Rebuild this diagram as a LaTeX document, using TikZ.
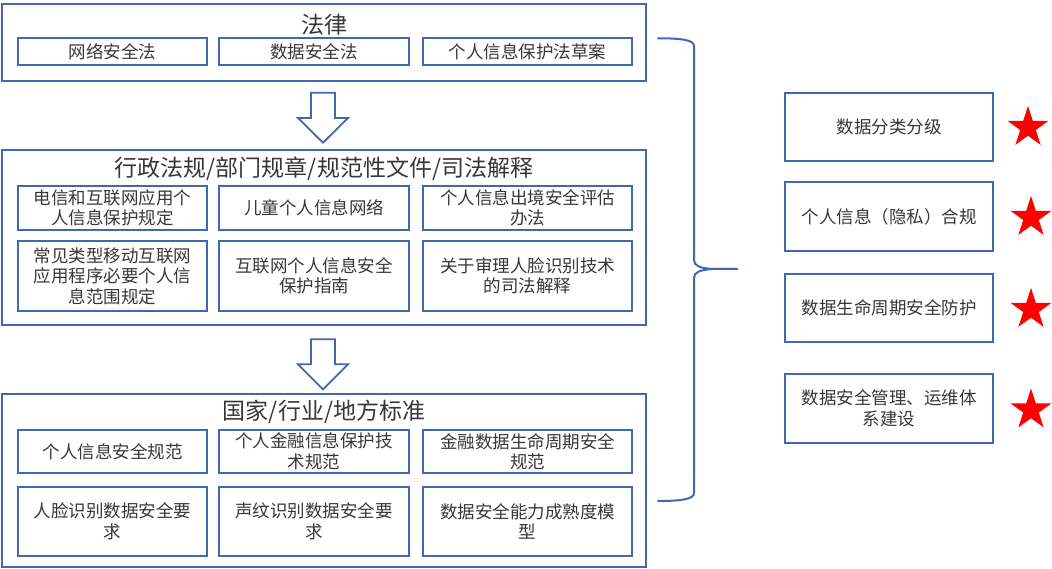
\documentclass[tikz,border=0pt]{standalone}
\usepackage{fontspec}
\setmainfont{Noto Sans CJK SC}
\usetikzlibrary{shapes.geometric}
\definecolor{bl}{RGB}{64,104,176}
\definecolor{tx}{RGB}{55,55,55}
\tikzset{
  outerbox/.style={draw=bl, line width=1.8pt, minimum width=644pt, inner sep=0pt},
  itembox/.style={draw=bl, line width=2pt, inner sep=0pt, align=center,
    font=\fontsize{17.5}{20.5}\selectfont, text=tx},
  titletext/.style={font=\fontsize{23}{26}\selectfont, text=tx, inner sep=0pt},
  rbox/.style={itembox, line width=1.8pt, minimum width=208pt},
  starmark/.style={star, star points=5, star point ratio=2.618, fill=red, draw=none,
    inner sep=0pt, minimum size=43pt},
  blockarrow/.style={draw=bl, line width=1.8pt, line join=miter, fill=white},
  bracepath/.style={draw=bl, line width=2pt, line cap=round}
}
\begin{document}
\begin{tikzpicture}[x=1pt,y=-1pt]
\useasboundingbox (0,0) rectangle (1052,569);
% ---------- box 1 ----------
\node[outerbox, minimum height=77pt] (law) at (324,42.5) {};
\node[titletext] (lawt) at (324,25) {法律};
\node[itembox, minimum width=189pt, minimum height=27pt] (l1) at (112.5,51.5) {网络安全法};
\node[itembox, minimum width=190pt, minimum height=27pt] (l2) at (314,51.5) {数据安全法};
\node[itembox, minimum width=209pt, minimum height=27pt] (l3) at (527.5,51.5) {个人信息保护法草案};
% ---------- arrow 1 ----------
\coordinate (a1) at (323,92.7);
\draw[blockarrow] ([xshift=-12pt]a1) -- ([xshift=12pt]a1) -- ([xshift=12pt,yshift=-25.3pt]a1)
  -- ([xshift=25pt,yshift=-25.3pt]a1) -- ([yshift=-50pt]a1) -- ([xshift=-25pt,yshift=-25.3pt]a1)
  -- ([xshift=-12pt,yshift=-25.3pt]a1) -- cycle;
% ---------- box 2 ----------
\node[outerbox, minimum height=175pt] (reg) at (324,237.5) {};
\node[titletext] (regt) at (324,168.5) {行政法规/部门规章/规范性文件/司法解释};
\node[itembox, minimum width=189pt, minimum height=44pt] (r1) at (112.5,208) {电信和互联网应用个\\人信息保护规定};
\node[itembox, minimum width=190pt, minimum height=44pt] (r2) at (314,208) {儿童个人信息网络};
\node[itembox, minimum width=209pt, minimum height=44pt] (r3) at (527.5,208) {个人信息出境安全评估\\办法};
\node[itembox, minimum width=189pt, minimum height=70pt] (r4) at (112.5,276) {常见类型移动互联网\\应用程序必要个人信\\息范围规定};
\node[itembox, minimum width=190pt, minimum height=70pt] (r5) at (314,276) {互联网个人信息安全\\保护指南};
\node[itembox, minimum width=209pt, minimum height=70pt] (r6) at (527.5,276) {关于审理人脸识别技术\\的司法解释};
% ---------- arrow 2 ----------
\coordinate (a2) at (323,339.3);
\draw[blockarrow] ([xshift=-12pt]a2) -- ([xshift=12pt]a2) -- ([xshift=12pt,yshift=-25pt]a2)
  -- ([xshift=25pt,yshift=-25pt]a2) -- ([yshift=-50pt]a2) -- ([xshift=-25pt,yshift=-25pt]a2)
  -- ([xshift=-12pt,yshift=-25pt]a2) -- cycle;
% ---------- box 3 ----------
\node[outerbox, minimum height=173pt] (std) at (324,480.5) {};
\node[titletext] (stdt) at (324,411.5) {国家/行业/地方标准};
\node[itembox, minimum width=189pt, minimum height=43pt] (s1) at (112.5,451.5) {个人信息安全规范};
\node[itembox, minimum width=190pt, minimum height=43pt] (s2) at (314,451.5) {个人金融信息保护技\\术规范};
\node[itembox, minimum width=209pt, minimum height=43pt] (s3) at (527.5,451.5) {金融数据生命周期安全\\规范};
\node[itembox, minimum width=189pt, minimum height=69pt] (s4) at (112.5,521.5) {人脸识别数据安全要\\求};
\node[itembox, minimum width=190pt, minimum height=69pt] (s5) at (314,521.5) {声纹识别数据安全要\\求};
\node[itembox, minimum width=209pt, minimum height=69pt] (s6) at (527.5,521.5) {数据安全能力成熟度模\\型};
% ---------- brace ----------
\coordinate (bt) at (658,38.3);
\coordinate (tip) at (737,269);
\coordinate (bb) at (658,501);
\draw[bracepath] (bt) .. controls (682,38.3) and (694,40) .. (694,46) -- (694,260)
  .. controls (694,266) and (700,268) .. (712,269) -- (tip);
\draw[bracepath] (tip) -- (712,269) .. controls (700,270) and (694,272) .. (694,278)
  -- (694,493) .. controls (694,499) and (682,501) .. (bb);
% ---------- right boxes ----------
\node[rbox, minimum height=68pt] (k1) at (889,127) {数据分类分级};
\node[rbox, minimum height=69pt] (k2) at (889,216.5) {个人信息（隐私）合规};
\node[rbox, minimum height=68pt] (k3) at (889,308) {数据生命周期安全防护};
\node[rbox, minimum height=69pt] (k4) at (889,408.5) {数据安全管理、运维体\\系建设};
% ---------- stars ----------
\node[starmark] (st1) at (1028,127.5) {};
\node[starmark] (st2) at (1031,217.5) {};
\node[starmark] (st3) at (1031,309.5) {};
\node[starmark] (st4) at (1031,410) {};
\end{tikzpicture}
\end{document}
